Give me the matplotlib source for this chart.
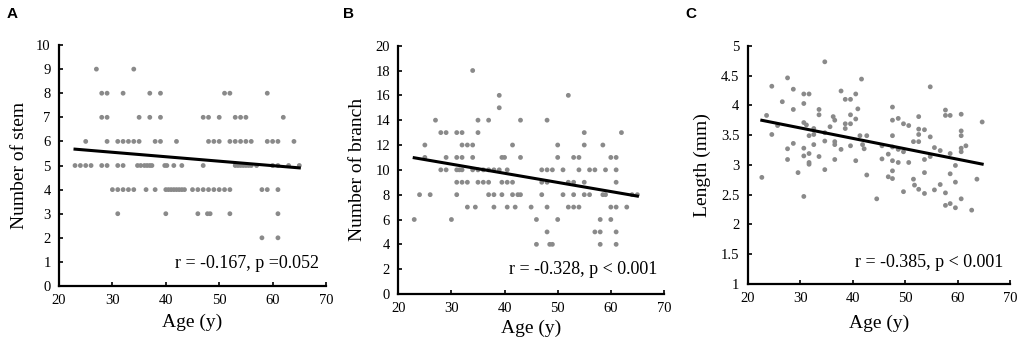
import numpy as np
import matplotlib
matplotlib.use("Agg")
import matplotlib.pyplot as plt
from matplotlib.ticker import FuncFormatter

# panel A: number of stems, ages grouped by value
stem_by_value = {
    9: [27, 34],
    8: [28, 29, 32, 37, 39, 51, 52, 59],
    7: [28, 29, 35, 37, 39, 47, 48, 50, 53, 54, 55, 62],
    6: [25, 29, 31, 32, 33, 34, 35, 38, 39, 42, 48, 49, 50, 52, 53, 54, 55, 56, 59, 60, 61, 64],
    5: [23, 24, 25, 26, 28, 29, 31, 32, 34.7, 35.3, 36, 36.5, 37, 37.4, 39.8, 40.2, 41.5, 43,
        47, 53, 53.5, 54, 54.5, 55, 55.5, 56, 57, 60, 61, 63, 65],
    4: [30, 31, 32, 33, 34, 36.3, 38, 40, 40.5, 41, 41.5, 42, 42.5, 43, 43.5, 45, 46, 47, 48,
        49, 50, 51, 52, 58, 59, 61],
    3: [31, 40, 46, 47.8, 48.3, 52, 61],
    2: [58, 61],
}

# panel B: number of branches, ages grouped by value
branch_by_value = {
    18: [34],
    16: [39, 52],
    15: [39],
    14: [27, 35, 37, 43, 48],
    13: [28, 29, 31, 32, 35, 55, 62],
    12: [25, 32, 33, 34, 41.5, 50, 55, 58.5],
    11: [25, 29, 31, 32, 34, 39.5, 40, 43, 50, 53, 54, 60, 61],
    10: [28, 29, 31, 31.5, 32, 34, 35, 36, 37, 38, 39, 40.5, 47, 48, 49, 51, 54, 56, 57, 59, 61],
    9: [31, 32, 33, 35, 36, 37, 39.5, 40.5, 41.5, 47, 48, 52, 53, 55, 61],
    8: [24, 26, 31, 37, 38, 39.5, 41.5, 42.5, 43, 47, 51, 53, 55, 56, 58.5, 59, 64, 65],
    7: [33, 34.5, 38, 40.5, 42, 45, 48, 52, 53, 54, 60, 61, 63],
    6: [23, 30, 46, 50, 58, 60],
    5: [48, 57, 58, 61],
    4: [46, 48.5, 49, 58, 61],
}

# panel C: length (mm)
len_age = [22.7, 23.6, 24.6, 24.6, 25.7, 26.6, 27.6, 27.6, 27.6, 28.7, 28.7, 28.7, 29.6,
           30.7, 30.7, 30.7, 30.7, 30.7, 30.7, 31.7, 31.2, 31.7, 31.7, 31.7, 31.7, 32.6, 32.6,
           32.6, 33.6, 33.6, 33.6, 34.7, 34.7, 34.7, 34.7, 35.7, 36.3, 36.6, 36.6, 36.6, 36.6,
           37.8, 37.8, 38.6, 38.6, 38.6, 39.6, 39.6, 39.6, 39.6, 40.6, 40.6, 40.6, 41.0, 41.7,
           41.4, 41.9, 42.2, 42.7, 42.7, 44.6, 45.6, 45.6, 46.8, 46.8, 47.6, 47.6, 47.6, 47.6,
           47.6, 47.6, 47.6, 48.7, 48.7, 48.7, 49.7, 49.7, 49.7, 50.7, 50.7, 51.6, 51.6, 51.8,
           52.6, 52.6, 52.6, 52.6, 52.6, 53.7, 53.7, 53.7, 53.7, 54.8, 54.8, 54.8, 55.6, 55.6,
           56.7, 56.7, 57.7, 57.7, 57.7, 57.7, 58.6, 58.6, 58.6, 58.6, 59.6, 59.6, 59.6, 60.7,
           60.7, 60.7, 60.7, 60.7, 60.7, 61.6, 62.7, 63.7, 64.7]
len_mm = [2.79, 3.83, 4.32, 3.51, 3.66, 4.06, 4.46, 3.27, 3.09, 4.27, 3.93, 3.36, 2.87,
          4.19, 4.03, 3.71, 3.28, 3.15, 2.47, 4.19, 3.67, 3.49, 3.19, 3.04, 3.01, 3.61, 3.51,
          3.34, 3.93, 3.84, 3.14, 4.73, 3.40, 2.92, 3.54, 3.64, 3.81, 3.75, 3.39, 3.34, 3.09,
          4.24, 3.26, 3.69, 3.61, 4.10, 4.10, 3.84, 3.69, 3.32, 4.19, 3.77, 3.07, 3.94, 4.44,
          3.49, 3.34, 3.27, 3.49, 2.83, 2.43, 3.10, 3.32, 3.18, 2.80, 3.97, 3.75, 3.49, 3.30,
          3.07, 2.90, 2.77, 3.78, 3.26, 3.04, 3.69, 3.22, 2.55, 3.66, 3.04, 2.76, 3.39, 2.66,
          3.81, 3.60, 3.51, 3.39, 2.59, 3.59, 3.09, 2.87, 2.52, 4.31, 3.47, 3.14, 3.29, 2.58,
          3.24, 2.67, 3.92, 3.83, 2.53, 2.32, 3.83, 3.19, 2.85, 2.35, 2.99, 2.71, 2.28, 3.85,
          3.57, 3.49, 3.28, 3.22, 2.43, 3.32, 2.24, 2.76, 3.72]

stats_txt = ["r = -0.167, p =0.052", "r = -0.328, p < 0.001", "r = -0.385, p < 0.001"]
ylabels = ["Number of stem", "Number of branch", "Length (mm)"]
letters = ["A", "B", "C"]


def flatten(groups):
    xs, ys = [], []
    for v, ages in groups.items():
        xs += ages
        ys += [v] * len(ages)
    return np.array(xs, float), np.array(ys, float)


SERIF = "Liberation Serif"
DOT = "#8a8a8a"

fig = plt.figure(figsize=(10.21, 3.49), dpi=100)
rects = [
    [0.0578, 0.1805, 0.2615, 0.6905],
    [0.3901, 0.1576, 0.2602, 0.7115],
    [0.7323, 0.1862, 0.2569, 0.6828],
]
data = [flatten(stem_by_value), flatten(branch_by_value),
        (np.array(len_age), np.array(len_mm))]
ylims = [(0, 10, 1), (0, 20, 2), (1, 5, 0.5)]
ylab_x = [-0.116, -0.122, -0.140]
xlab_y = [-0.116, -0.105, -0.130]
txt_y = [0.095, 0.10, 0.091]
letter_x = [7, 343, 685]

for i, r in enumerate(rects):
    ax = fig.add_axes(r)
    x, y = data[i]
    ax.scatter(x, y, s=12, color=DOT, edgecolors="none", zorder=2)
    # least-squares line over the observed age range
    k, b = np.polyfit(x, y, 1)
    xf = np.array([x.min(), x.max()])
    ax.plot(xf, k * xf + b, color="black", lw=2.2, zorder=3)

    lo, hi, step = ylims[i]
    ax.set_xlim(20, 70)
    ax.set_ylim(lo, hi)
    ax.set_xticks(np.arange(20, 71, 10))
    ax.set_yticks(np.arange(lo, hi + step / 2, step))
    ax.yaxis.set_major_formatter(FuncFormatter(lambda v, p: f"{v:g}"))
    for s in ["top", "right"]:
        ax.spines[s].set_visible(False)
    for s in ["left", "bottom"]:
        ax.spines[s].set_linewidth(1.6)
    ax.tick_params(direction="in", length=3, width=1.2, labelsize=10.5)
    ax.tick_params(axis="x", pad=6)
    ax.tick_params(axis="y", pad=6)
    for lab in ax.get_xticklabels() + ax.get_yticklabels():
        lab.set_fontfamily(SERIF)

    ax.set_ylabel(ylabels[i], fontsize=14, family=SERIF)
    ax.set_xlabel("Age (y)", fontsize=14, family=SERIF)
    ax.yaxis.set_label_coords(ylab_x[i], 0.5)
    ax.xaxis.set_label_coords(0.5, xlab_y[i])
    ax.text(0.975, txt_y[i], stats_txt[i], transform=ax.transAxes, ha="right",
            va="center", fontsize=13, family=SERIF)
    fig.text(letter_x[i] / 1021, 1 - 14 / 349, letters[i], fontsize=11,
             fontweight="bold", family="Liberation Sans", va="center")

fig.savefig("out.png", dpi=100)
